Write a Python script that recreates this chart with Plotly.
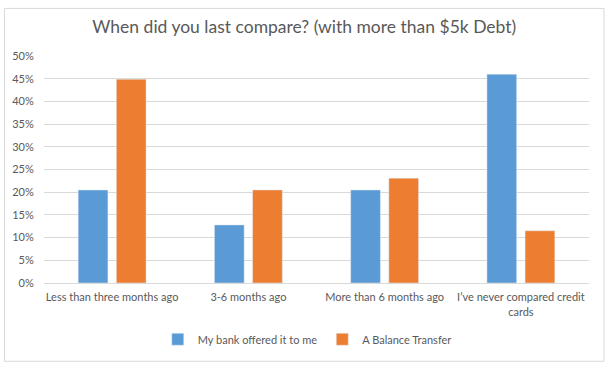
import plotly.graph_objects as go

categories = ["Less than three months ago", "3-6 months ago", "More than 6 months ago",
              "I\u2019ve never compared credit<br>cards"]
bank_offered = [0.205, 0.128, 0.205, 0.460]
balance_transfer = [0.449, 0.205, 0.231, 0.115]
series_names = ["My bank offered it to me", "A Balance Transfer"]
tick_vals = [0, 0.05, 0.10, 0.15, 0.20, 0.25, 0.30, 0.35, 0.40, 0.45, 0.50]

W, H = 614, 374
L, R, T, B = 43.5, 25, 55.6, 91.3
pw, ph = W - L - R, H - T - B

def px(x):
    return (x - L) / pw

def py(y):
    return (H - B - y) / ph

FONT = "Lato"
GREY = "#595959"
CLEAR = "rgba(0,0,0,0)"

fig = go.Figure()
fig.add_trace(go.Bar(x=categories, y=bank_offered, name=series_names[0], marker_color="#5B9BD5"))
fig.add_trace(go.Bar(x=categories, y=balance_transfer, name=series_names[1], marker_color="#ED7D31"))

fig.update_layout(
    width=W, height=H,
    margin=dict(l=L, r=R, t=T, b=B),
    paper_bgcolor="white", plot_bgcolor="white",
    barmode="group", bargap=0.44, bargroupgap=0.22,
    font=dict(family=FONT, color=GREY, size=11),
    title=dict(text="When did you last compare? (with more than $5k Debt)",
               x=px(304), xref="paper", xanchor="center",
               y=1 - 27 / H, yanchor="middle",
               font=dict(family=FONT, size=17.5, color=GREY)),
    legend=dict(orientation="h", x=px(307), xanchor="center", y=py(339), yanchor="middle",
                font=dict(family=FONT, size=11, color=GREY),
                itemwidth=30, traceorder="normal"),
    xaxis=dict(showgrid=False, showline=True, linecolor="#d9d9d9", linewidth=1,
               ticks="outside", ticklen=4, tickcolor=CLEAR,
               tickfont=dict(family=FONT, size=11, color=GREY)),
    yaxis=dict(range=[0, 0.5], tickvals=tick_vals, tickformat=".0%",
               showgrid=True, gridcolor="#d9d9d9", gridwidth=1, zeroline=False,
               showline=False, ticks="outside", ticklen=7, tickcolor=CLEAR,
               tickfont=dict(family=FONT, size=11, color=GREY)),
    shapes=[dict(type="rect", xref="paper", yref="paper",
                 x0=px(4), x1=px(604), y0=py(361), y1=py(8),
                 line=dict(color="#d9d9d9", width=1), layer="below")],
)

fig.write_html("out.html", config={"displayModeBar": False},
               post_script="document.body.style.margin='0';")
